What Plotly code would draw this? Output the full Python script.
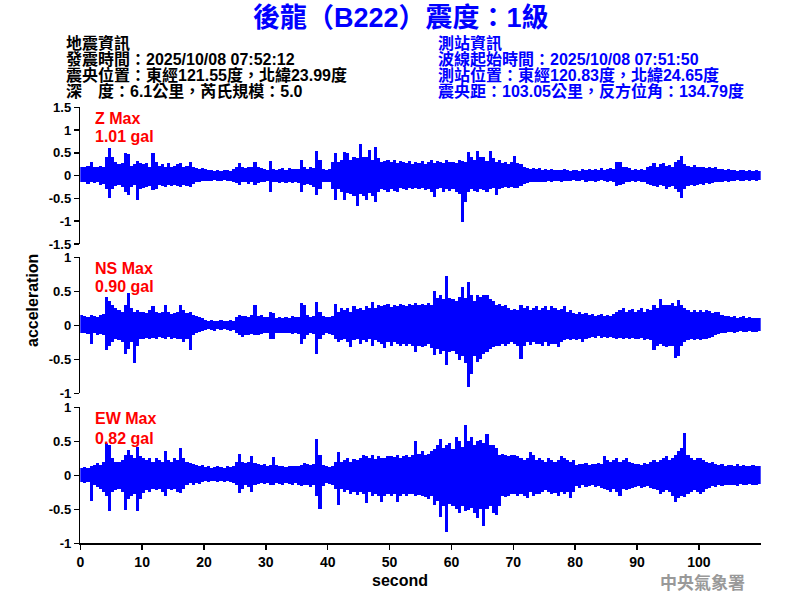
import plotly.graph_objects as go

# ---------------- data ----------------
# peak up / peak down of each 0.5 s window
STEP = 0.5
Z_UP = [
    0.18, 0.20, 0.22, 0.30, 0.20, 0.18, 0.22, 0.20, 0.40, 0.60,
    0.42, 0.30, 0.25, 0.28, 0.50, 0.48, 0.22, 0.25, 0.33, 0.27,
    0.25, 0.27, 0.20, 0.49, 0.30, 0.22, 0.25, 0.20, 0.27, 0.20,
    0.22, 0.25, 0.27, 0.20, 0.22, 0.30, 0.20, 0.16, 0.15, 0.17,
    0.14, 0.12, 0.13, 0.10, 0.12, 0.11, 0.12, 0.13, 0.10, 0.14,
    0.18, 0.27, 0.20, 0.17, 0.20, 0.18, 0.30, 0.20, 0.17, 0.15,
    0.12, 0.32, 0.14, 0.12, 0.15, 0.16, 0.12, 0.17, 0.14, 0.15,
    0.15, 0.34, 0.20, 0.15, 0.18, 0.16, 0.54, 0.35, 0.15, 0.12,
    0.14, 0.30, 0.49, 0.30, 0.35, 0.53, 0.50, 0.35, 0.40, 0.38,
    0.69, 0.40, 0.42, 0.56, 0.35, 0.62, 0.38, 0.30, 0.33, 0.35,
    0.30, 0.35, 0.28, 0.32, 0.30, 0.28, 0.33, 0.25, 0.30, 0.28,
    0.32, 0.25, 0.30, 0.35, 0.28, 0.33, 0.30, 0.27, 0.35, 0.30,
    0.30, 0.28, 0.35, 0.33, 0.30, 0.53, 0.40, 0.35, 0.55, 0.42,
    0.40, 0.33, 0.54, 0.38, 0.30, 0.35, 0.28, 0.30, 0.25, 0.30,
    0.43, 0.28, 0.25, 0.20, 0.16, 0.15, 0.17, 0.14, 0.16, 0.13,
    0.15, 0.12, 0.14, 0.13, 0.12, 0.13, 0.14, 0.12, 0.10, 0.12,
    0.13, 0.11, 0.15, 0.12, 0.14, 0.13, 0.15, 0.12, 0.16, 0.13,
    0.14, 0.16, 0.15, 0.30, 0.31, 0.20, 0.18, 0.17, 0.13, 0.15,
    0.12, 0.14, 0.13, 0.20, 0.22, 0.27, 0.20, 0.25, 0.27, 0.22,
    0.24, 0.20, 0.30, 0.35, 0.43, 0.25, 0.22, 0.20, 0.23, 0.20,
    0.18, 0.20, 0.17, 0.19, 0.16, 0.18, 0.15, 0.14, 0.13, 0.14,
    0.12, 0.13, 0.11, 0.12, 0.13, 0.11, 0.12, 0.10, 0.12, 0.11,
]
Z_DOWN = [
    -0.15, -0.13, -0.18, -0.15, -0.16, -0.14, -0.20, -0.18, -0.30, -0.48,
    -0.30, -0.22, -0.20, -0.25, -0.35, -0.42, -0.25, -0.20, -0.53, -0.30,
    -0.28, -0.25, -0.22, -0.32, -0.30, -0.20, -0.22, -0.25, -0.20, -0.22,
    -0.20, -0.23, -0.25, -0.20, -0.22, -0.25, -0.18, -0.14, -0.13, -0.12,
    -0.12, -0.11, -0.12, -0.10, -0.11, -0.12, -0.10, -0.12, -0.11, -0.13,
    -0.16, -0.20, -0.15, -0.14, -0.18, -0.15, -0.20, -0.16, -0.14, -0.15,
    -0.12, -0.35, -0.15, -0.14, -0.16, -0.14, -0.17, -0.15, -0.16, -0.14,
    -0.17, -0.35, -0.20, -0.18, -0.20, -0.25, -0.42, -0.30, -0.15, -0.14,
    -0.15, -0.30, -0.53, -0.30, -0.35, -0.53, -0.38, -0.40, -0.45, -0.66,
    -0.40, -0.45, -0.53, -0.38, -0.45, -0.57, -0.35, -0.30, -0.32, -0.35,
    -0.30, -0.33, -0.35, -0.28, -0.30, -0.32, -0.28, -0.30, -0.27, -0.30,
    -0.28, -0.32, -0.30, -0.35, -0.46, -0.30, -0.28, -0.35, -0.30, -0.33,
    -0.30, -0.35, -0.40, -1.01, -0.58, -0.35, -0.30, -0.33, -0.35, -0.30,
    -0.32, -0.35, -0.30, -0.28, -0.42, -0.30, -0.28, -0.25, -0.27, -0.25,
    -0.28, -0.26, -0.22, -0.18, -0.16, -0.15, -0.14, -0.15, -0.13, -0.14,
    -0.13, -0.12, -0.14, -0.12, -0.11, -0.13, -0.12, -0.11, -0.12, -0.10,
    -0.11, -0.12, -0.10, -0.13, -0.12, -0.11, -0.13, -0.12, -0.10, -0.12,
    -0.13, -0.12, -0.15, -0.23, -0.20, -0.18, -0.15, -0.14, -0.12, -0.13,
    -0.12, -0.14, -0.13, -0.18, -0.20, -0.22, -0.25, -0.20, -0.22, -0.30,
    -0.25, -0.22, -0.30, -0.35, -0.50, -0.30, -0.22, -0.20, -0.22, -0.20,
    -0.18, -0.20, -0.17, -0.18, -0.16, -0.15, -0.14, -0.13, -0.12, -0.13,
    -0.11, -0.12, -0.10, -0.11, -0.12, -0.10, -0.11, -0.10, -0.11, -0.10,
]
NS_UP = [
    0.15, 0.13, 0.12, 0.15, 0.14, 0.12, 0.15, 0.17, 0.42, 0.35,
    0.30, 0.25, 0.22, 0.20, 0.30, 0.47, 0.25, 0.20, 0.22, 0.20,
    0.20, 0.18, 0.22, 0.28, 0.20, 0.18, 0.20, 0.30, 0.20, 0.17,
    0.18, 0.20, 0.30, 0.22, 0.18, 0.20, 0.15, 0.14, 0.12, 0.10,
    0.08, 0.07, 0.08, 0.06, 0.07, 0.08, 0.07, 0.06, 0.08, 0.07,
    0.12, 0.15, 0.13, 0.14, 0.12, 0.15, 0.30, 0.14, 0.15, 0.12,
    0.12, 0.20, 0.18, 0.11, 0.12, 0.10, 0.12, 0.11, 0.13, 0.12,
    0.12, 0.33, 0.30, 0.15, 0.12, 0.13, 0.34, 0.20, 0.13, 0.12,
    0.12, 0.14, 0.31, 0.20, 0.25, 0.22, 0.25, 0.20, 0.28, 0.24,
    0.25, 0.22, 0.28, 0.25, 0.34, 0.26, 0.30, 0.28, 0.30, 0.32,
    0.27, 0.30, 0.28, 0.32, 0.30, 0.28, 0.32, 0.30, 0.33, 0.30,
    0.32, 0.30, 0.33, 0.30, 0.51, 0.40, 0.44, 0.38, 0.72, 0.40,
    0.38, 0.35, 0.42, 0.56, 0.40, 0.63, 0.45, 0.35, 0.45, 0.42,
    0.45, 0.44, 0.38, 0.35, 0.30, 0.32, 0.28, 0.30, 0.25, 0.22,
    0.24, 0.22, 0.30, 0.26, 0.28, 0.22, 0.25, 0.28, 0.22, 0.25,
    0.28, 0.22, 0.29, 0.25, 0.22, 0.24, 0.29, 0.20, 0.22, 0.18,
    0.17, 0.20, 0.16, 0.18, 0.15, 0.17, 0.14, 0.15, 0.16, 0.14,
    0.15, 0.13, 0.16, 0.20, 0.22, 0.25, 0.20, 0.22, 0.24, 0.20,
    0.22, 0.25, 0.20, 0.24, 0.22, 0.30, 0.25, 0.38, 0.30, 0.30,
    0.30, 0.33, 0.28, 0.37, 0.30, 0.25, 0.22, 0.20, 0.22, 0.20,
    0.22, 0.20, 0.23, 0.21, 0.18, 0.20, 0.20, 0.15, 0.13, 0.14,
    0.12, 0.13, 0.11, 0.12, 0.13, 0.11, 0.12, 0.10, 0.11, 0.10,
]
NS_DOWN = [
    -0.12, -0.12, -0.13, -0.27, -0.12, -0.14, -0.13, -0.15, -0.37, -0.30,
    -0.25, -0.20, -0.22, -0.25, -0.42, -0.35, -0.25, -0.56, -0.30, -0.20,
    -0.20, -0.18, -0.20, -0.18, -0.20, -0.17, -0.18, -0.20, -0.17, -0.20,
    -0.18, -0.20, -0.20, -0.25, -0.20, -0.37, -0.15, -0.12, -0.10, -0.08,
    -0.07, -0.06, -0.07, -0.08, -0.06, -0.07, -0.06, -0.07, -0.08, -0.07,
    -0.12, -0.15, -0.17, -0.14, -0.15, -0.13, -0.15, -0.14, -0.13, -0.12,
    -0.12, -0.20, -0.20, -0.12, -0.11, -0.12, -0.12, -0.11, -0.13, -0.12,
    -0.13, -0.27, -0.20, -0.15, -0.12, -0.13, -0.42, -0.20, -0.14, -0.12,
    -0.13, -0.15, -0.20, -0.25, -0.22, -0.20, -0.24, -0.32, -0.22, -0.20,
    -0.27, -0.22, -0.25, -0.20, -0.30, -0.22, -0.25, -0.28, -0.34, -0.25,
    -0.30, -0.25, -0.28, -0.30, -0.27, -0.30, -0.28, -0.30, -0.39, -0.30,
    -0.32, -0.30, -0.28, -0.34, -0.44, -0.35, -0.42, -0.38, -0.59, -0.40,
    -0.38, -0.42, -0.51, -0.45, -0.56, -0.91, -0.71, -0.45, -0.54, -0.50,
    -0.42, -0.40, -0.35, -0.32, -0.30, -0.30, -0.28, -0.30, -0.27, -0.25,
    -0.27, -0.30, -0.49, -0.30, -0.25, -0.29, -0.25, -0.28, -0.27, -0.30,
    -0.25, -0.30, -0.27, -0.28, -0.32, -0.25, -0.22, -0.20, -0.22, -0.20,
    -0.22, -0.20, -0.24, -0.20, -0.18, -0.17, -0.18, -0.16, -0.18, -0.17,
    -0.18, -0.17, -0.19, -0.20, -0.18, -0.20, -0.19, -0.20, -0.18, -0.20,
    -0.20, -0.19, -0.21, -0.20, -0.22, -0.37, -0.30, -0.28, -0.30, -0.32,
    -0.30, -0.30, -0.48, -0.45, -0.30, -0.25, -0.22, -0.20, -0.22, -0.20,
    -0.22, -0.20, -0.20, -0.18, -0.17, -0.15, -0.13, -0.12, -0.11, -0.10,
    -0.10, -0.11, -0.10, -0.09, -0.10, -0.10, -0.09, -0.10, -0.10, -0.09,
]
EW_UP = [
    0.10, 0.12, 0.10, 0.13, 0.15, 0.18, 0.15, 0.20, 0.47, 0.45,
    0.25, 0.20, 0.20, 0.22, 0.30, 0.37, 0.30, 0.25, 0.42, 0.28,
    0.25, 0.22, 0.25, 0.20, 0.25, 0.22, 0.20, 0.35, 0.22, 0.20,
    0.25, 0.22, 0.40, 0.25, 0.20, 0.18, 0.17, 0.15, 0.14, 0.15,
    0.12, 0.13, 0.11, 0.12, 0.13, 0.12, 0.11, 0.13, 0.12, 0.13,
    0.20, 0.32, 0.20, 0.18, 0.20, 0.28, 0.18, 0.16, 0.15, 0.17,
    0.13, 0.15, 0.27, 0.15, 0.13, 0.14, 0.12, 0.13, 0.14, 0.13,
    0.13, 0.15, 0.18, 0.17, 0.15, 0.16, 0.54, 0.30, 0.15, 0.13,
    0.12, 0.14, 0.20, 0.34, 0.20, 0.22, 0.25, 0.20, 0.24, 0.22,
    0.25, 0.30, 0.28, 0.25, 0.30, 0.24, 0.28, 0.26, 0.25, 0.28,
    0.28, 0.27, 0.30, 0.25, 0.28, 0.30, 0.27, 0.30, 0.50, 0.32,
    0.35, 0.30, 0.32, 0.35, 0.38, 0.45, 0.54, 0.40, 0.45, 0.47,
    0.38, 0.57, 0.50, 0.42, 0.74, 0.50, 0.57, 0.45, 0.50, 0.52,
    0.48, 0.60, 0.45, 0.45, 0.40, 0.30, 0.32, 0.30, 0.28, 0.30,
    0.30, 0.28, 0.25, 0.22, 0.25, 0.34, 0.30, 0.22, 0.25, 0.22,
    0.20, 0.25, 0.22, 0.20, 0.22, 0.28, 0.25, 0.22, 0.20, 0.22,
    0.15, 0.17, 0.16, 0.18, 0.15, 0.17, 0.16, 0.18, 0.16, 0.28,
    0.22, 0.20, 0.22, 0.25, 0.20, 0.22, 0.25, 0.20, 0.18, 0.16,
    0.17, 0.15, 0.18, 0.16, 0.20, 0.22, 0.20, 0.22, 0.25, 0.28,
    0.22, 0.25, 0.30, 0.35, 0.40, 0.62, 0.30, 0.25, 0.22, 0.25,
    0.25, 0.22, 0.20, 0.18, 0.20, 0.17, 0.15, 0.16, 0.14, 0.15,
    0.15, 0.14, 0.16, 0.13, 0.15, 0.14, 0.13, 0.15, 0.14, 0.13,
]
EW_DOWN = [
    -0.10, -0.12, -0.10, -0.38, -0.15, -0.17, -0.20, -0.25, -0.30, -0.52,
    -0.25, -0.22, -0.20, -0.25, -0.51, -0.35, -0.30, -0.28, -0.53, -0.35,
    -0.26, -0.22, -0.25, -0.20, -0.22, -0.20, -0.25, -0.30, -0.20, -0.22,
    -0.20, -0.25, -0.26, -0.20, -0.15, -0.12, -0.14, -0.12, -0.13, -0.10,
    -0.09, -0.10, -0.09, -0.08, -0.10, -0.09, -0.10, -0.09, -0.10, -0.12,
    -0.15, -0.26, -0.20, -0.15, -0.17, -0.24, -0.15, -0.13, -0.12, -0.13,
    -0.12, -0.14, -0.15, -0.12, -0.13, -0.14, -0.12, -0.13, -0.14, -0.12,
    -0.14, -0.16, -0.14, -0.15, -0.17, -0.15, -0.30, -0.49, -0.16, -0.12,
    -0.13, -0.14, -0.20, -0.43, -0.20, -0.25, -0.22, -0.28, -0.25, -0.29,
    -0.25, -0.27, -0.41, -0.25, -0.30, -0.28, -0.30, -0.39, -0.30, -0.28,
    -0.30, -0.27, -0.39, -0.30, -0.28, -0.30, -0.27, -0.28, -0.30, -0.29,
    -0.30, -0.32, -0.35, -0.30, -0.44, -0.38, -0.61, -0.45, -0.83, -0.42,
    -0.45, -0.50, -0.56, -0.45, -0.52, -0.51, -0.48, -0.55, -0.63, -0.50,
    -0.75, -0.50, -0.45, -0.56, -0.58, -0.45, -0.30, -0.32, -0.30, -0.28,
    -0.28, -0.30, -0.27, -0.30, -0.34, -0.25, -0.30, -0.27, -0.28, -0.25,
    -0.22, -0.25, -0.28, -0.26, -0.30, -0.25, -0.27, -0.24, -0.33, -0.25,
    -0.16, -0.18, -0.15, -0.17, -0.16, -0.15, -0.17, -0.16, -0.18, -0.20,
    -0.22, -0.24, -0.20, -0.25, -0.30, -0.20, -0.22, -0.20, -0.18, -0.17,
    -0.16, -0.18, -0.17, -0.16, -0.18, -0.20, -0.22, -0.28, -0.25, -0.22,
    -0.25, -0.30, -0.39, -0.33, -0.30, -0.32, -0.28, -0.25, -0.22, -0.24,
    -0.28, -0.24, -0.20, -0.18, -0.16, -0.17, -0.15, -0.16, -0.14, -0.15,
    -0.15, -0.14, -0.16, -0.13, -0.15, -0.14, -0.13, -0.15, -0.14, -0.13,
]

CHANNELS = ["Z", "NS", "EW"]
MAX_TEXT = ["1.01 gal", "0.90 gal", "0.82 gal"]
X_TICKS = [0, 10, 20, 30, 40, 50, 60, 70, 80, 90, 100]
Y_TICKS_Z = [-1.5, -1, -0.5, 0, 0.5, 1, 1.5]
Y_TICKS = [-1, -0.5, 0, 0.5, 1]

TITLE = "後龍（B222）震度：1級"
LEFT_INFO = [
    "地震資訊",
    "發震時間：2025/10/08 07:52:12",
    "震央位置：東經121.55度，北緯23.99度",
    "深　度：6.1公里，芮氏規模：5.0",
]
RIGHT_INFO = [
    "測站資訊",
    "波線起始時間：2025/10/08 07:51:50",
    "測站位置：東經120.83度，北緯24.65度",
    "震央距：103.05公里，反方位角：134.79度",
]

# ---------------- figure ----------------
W, H = 800, 600
BLUE = "#0000FF"
FONT = "Arial, 'Liberation Sans', 'Noto Sans CJK TC', sans-serif"


def px(x):
    return x / W


def py(y):
    return 1 - y / H


fig = go.Figure()
series = [(Z_UP, Z_DOWN), (NS_UP, NS_DOWN), (EW_UP, EW_DOWN)]
for k, (u, d) in enumerate(series):
    sfx = "" if k == 0 else str(k + 1)
    t = [i * STEP for i in range(len(u))]
    fig.add_trace(go.Bar(x=t, y=[a - b for a, b in zip(u, d)], base=d,
                         width=STEP, offset=0,
                         marker=dict(color=BLUE, line=dict(width=0)),
                         xaxis="x" + sfx, yaxis="y" + sfx,
                         hoverinfo="skip", showlegend=False))

XD = [px(80.3), px(760.7)]
ydoms = [[py(244), py(107.3)], [py(393.3), py(257.3)], [py(543.3), py(407.3)]]
yranges = [[-1.5, 1.5], [-1, 1], [-1, 1]]
yticks = [Y_TICKS_Z, Y_TICKS, Y_TICKS]

tickfont = dict(family=FONT, size=13, color="black", weight="bold")
lay = dict(width=W, height=H, margin=dict(l=0, r=0, t=0, b=0, pad=0),
           autosize=False, bargap=0, barmode="overlay",
           plot_bgcolor="white", paper_bgcolor="white", showlegend=False)
for k in range(3):
    sfx = "" if k == 0 else str(k + 1)
    xa = dict(domain=XD, range=[0, 110], anchor="y" + sfx, showgrid=False,
              zeroline=False, fixedrange=True, automargin=False)
    if k < 2:
        xa.update(visible=False)
    else:
        xa.update(showline=True, linecolor="black", linewidth=1.5,
                  ticks="outside", ticklen=5, tickwidth=1.5, tickcolor="black",
                  tickvals=X_TICKS, ticktext=[str(v) for v in X_TICKS],
                  tickfont=dict(family=FONT, size=14, color="black", weight="bold"))
    ya = dict(domain=ydoms[k], range=yranges[k], anchor="x" + sfx,
              showgrid=False, zeroline=False, showline=True, linecolor="black",
              linewidth=1.5, ticks="outside", ticklen=5, tickwidth=1.5,
              tickcolor="black", tickvals=yticks[k], automargin=False,
              ticktext=["%g" % v for v in yticks[k]], tickfont=tickfont,
              fixedrange=True)
    lay["xaxis" + sfx] = xa
    lay["yaxis" + sfx] = ya
fig.update_layout(**lay)

ann = []
ann.append(dict(text=TITLE, x=px(401), y=py(18), xanchor="center", yanchor="middle",
                font=dict(family=FONT, size=27, color=BLUE, weight="bold")))
for i, line in enumerate(LEFT_INFO):
    ann.append(dict(text=line, x=px(64), y=py(43 + 16 * i), xanchor="left",
                    yanchor="middle",
                    font=dict(family=FONT, size=16, color="black", weight="bold")))
for i, line in enumerate(RIGHT_INFO):
    ann.append(dict(text=line, x=px(436), y=py(43 + 16 * i), xanchor="left",
                    yanchor="middle",
                    font=dict(family=FONT, size=16, color=BLUE, weight="bold")))
label_y = [(118, 137), (268, 287), (418, 438)]
for k in range(3):
    ann.append(dict(text=CHANNELS[k] + " Max", x=px(93), y=py(label_y[k][0]),
                    xanchor="left", yanchor="middle",
                    font=dict(family=FONT, size=16, color="#FF0000", weight="bold")))
    ann.append(dict(text=MAX_TEXT[k], x=px(93), y=py(label_y[k][1]),
                    xanchor="left", yanchor="middle",
                    font=dict(family=FONT, size=16, color="#FF0000", weight="bold")))
ann.append(dict(text="acceleration", x=px(32), y=py(301), textangle=-90,
                xanchor="center", yanchor="middle",
                font=dict(family=FONT, size=16, color="black", weight="bold")))
ann.append(dict(text="second", x=px(400), y=py(580), xanchor="center",
                yanchor="middle",
                font=dict(family=FONT, size=16, color="black", weight="bold")))
ann.append(dict(text="中央氣象署", x=px(702), y=py(581), xanchor="center",
                yanchor="middle",
                font=dict(family="'Noto Sans CJK TC', sans-serif", size=17,
                          color="#999999", weight="bold")))
for a in ann:
    a.update(xref="paper", yref="paper", showarrow=False)
fig.update_layout(annotations=ann)

fig.write_html("out.html", config={"displayModeBar": False, "staticPlot": True},
               post_script="document.body.style.margin='0';"
                           "document.body.style.overflow='hidden';")
